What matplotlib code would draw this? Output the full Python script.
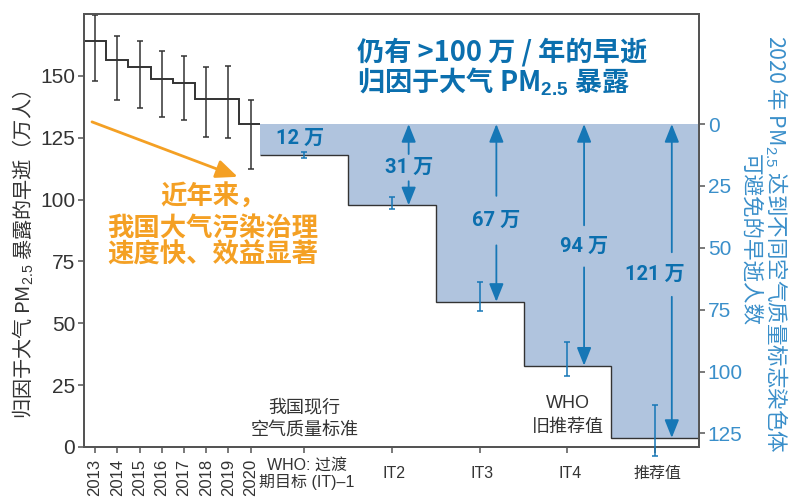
import matplotlib
matplotlib.use('Agg')
import matplotlib.pyplot as plt
import matplotlib.transforms as mtransforms
import numpy as np

plt.rcParams['font.family'] = ['Liberation Sans', 'Noto Sans CJK SC', 'DejaVu Sans']
plt.rcParams['mathtext.fontset'] = 'custom'
plt.rcParams['mathtext.rm'] = 'Liberation Sans'
plt.rcParams['mathtext.it'] = 'Liberation Sans:italic'
plt.rcParams['mathtext.bf'] = 'Liberation Sans:bold'

# ---- data ----
years = ['2013', '2014', '2015', '2016', '2017', '2018', '2019', '2020']
deaths = [164.0, 156.5, 153.4, 148.7, 147.0, 140.6, 140.6, 130.5]
deaths_low = [148.0, 140.3, 137.0, 133.3, 132.0, 125.2, 124.8, 112.3]
deaths_high = [174.7, 166.0, 163.9, 160.2, 158.1, 153.4, 154.0, 140.3]

standards = ['WHO: 过渡\n期目标 (IT)–1', 'IT2', 'IT3', 'IT4', '推荐值']
avoided = [12.4, 32.8, 71.8, 97.6, 126.8]
avoided_low = [11.2, 29.6, 64.0, 88.0, 113.6]
avoided_high = [13.5, 34.5, 75.5, 102.0, 134.0]
avoided_labels = ['12 万', '31 万', '67 万', '94 万', '121 万']

left_ticks = [0, 25, 50, 75, 100, 125, 150]
right_ticks = [0, 25, 50, 75, 100, 125]

# ---- style ----
DARK = '#333333'
SPINE = '#555555'
BLUE = '#0b6fae'
ARROW_BLUE = '#1677b6'
LIGHT_BLUE = '#3a8fca'
SHADE = '#b0c4de'
ORANGE = '#f4a024'
CJK = ['Noto Sans CJK SC', 'DejaVu Sans']

fig = plt.figure(figsize=(7.89, 4.97), dpi=100)
ax = fig.add_axes([84 / 789, 1 - 447 / 497, (699 - 84) / 789, (447 - 14) / 497])

year_pos = np.arange(len(years), dtype=float)
it_step = 3.95
it_pos = 9.42 + it_step * np.arange(len(standards))
it_edges = np.concatenate([it_pos - it_step / 2, [it_pos[-1] + it_step / 2]])
year_edges = np.concatenate([year_pos - 0.5, [it_edges[0]]])

top_val = deaths[-1]
ax.set_xlim(-0.5, it_edges[-1])
ax.set_ylim(0, 175)

# historical steps
ax.stairs(deaths, year_edges, baseline=None, color=DARK, lw=1.4, zorder=3)
d = np.array(deaths)
ax.errorbar(year_pos, d, yerr=[d - np.array(deaths_low), np.array(deaths_high) - d],
            fmt='none', ecolor=DARK, elinewidth=1.1, capsize=2.2, capthick=1.1, zorder=3)

# twin axis for avoided deaths
ax2 = ax.twinx()
ax2.set_ylim(top_val, top_val - 175)
a = np.array(avoided)
ax2.stairs(avoided, it_edges, baseline=0, fill=True, color=SHADE, lw=0, zorder=1)
ax2.stairs(avoided, it_edges, baseline=None, color=DARK, lw=1.0, zorder=2)
ax2.errorbar(it_pos, a, yerr=[a - np.array(avoided_low), np.array(avoided_high) - a],
             fmt='none', ecolor=ARROW_BLUE, elinewidth=1.1, capsize=2.2, capthick=1.1,
             zorder=4, clip_on=False)

# arrows and labels
arrow_x = it_pos + 0.75
label_y = [5.9, 17.6, 39.0, 49.4, 60.8]
gaps = [0, 5.5, 10.0, 8.5, 9.0]
for i, lab in enumerate(avoided_labels):
    if i == 0:
        ax2.text(it_pos[i] - 0.2, label_y[i], lab, ha='center', va='center', color=BLUE,
                 fontsize=14.5, fontweight='bold', family=['Roboto', 'Noto Sans CJK SC'], zorder=5)
        continue
    lx = arrow_x[i] if i < 4 else it_pos[i]
    ax2.text(lx, label_y[i], lab, ha='center', va='center', color=BLUE,
             fontsize=14.5, fontweight='bold', family=['Roboto', 'Noto Sans CJK SC'], zorder=5)
    ap = dict(arrowstyle='-|>,head_length=0.55,head_width=0.22', mutation_scale=20,
              color=ARROW_BLUE, lw=1.3, shrinkA=0, shrinkB=0)
    ax2.annotate('', xy=(arrow_x[i], 0), xytext=(arrow_x[i], label_y[i] - gaps[i]),
                 arrowprops=ap, zorder=5)
    ax2.annotate('', xy=(arrow_x[i], avoided[i]), xytext=(arrow_x[i], label_y[i] + gaps[i]),
                 arrowprops=ap, zorder=5)

# axes styling
ax.set_yticks(left_ticks)
ax.set_xticks(np.concatenate([year_pos, it_pos]))
ax.set_xticklabels(years + [''] * len(standards))
for lab in ax.get_xticklabels()[:len(years)]:
    lab.set_rotation(90)
ax.tick_params(axis='x', direction='out', length=4.3, width=1.1, color=SPINE,
               labelsize=12, labelcolor=DARK, pad=4)
ax.tick_params(axis='y', direction='out', length=4.3, width=1.1, color=SPINE,
               labelsize=15, labelcolor=DARK, pad=2)
ax2.set_yticks(right_ticks)
ax2.tick_params(axis='y', direction='out', length=4.3, width=1.1, color=SPINE,
                labelsize=15, labelcolor=LIGHT_BLUE, pad=2)
for a_ in (ax, ax2):
    for s in a_.spines.values():
        s.set_color(SPINE)
        s.set_linewidth(1.4)

# category labels below axis
trans = mtransforms.blended_transform_factory(ax.transData, ax.transAxes)
for p, s in zip(it_pos, standards):
    ax.text(p + 0.1, -0.062, s, transform=trans, ha='center', va='center', fontsize=11.5,
            color=DARK, linespacing=1.05, family=['Liberation Sans', 'Noto Sans CJK SC'])

# in-plot notes
ax.text(it_pos[0], 0.092, '我国现行', transform=trans, ha='center', va='center',
        fontsize=13, color=DARK, family=CJK)
ax.text(it_pos[0], 0.039, '空气质量标准', transform=trans, ha='center', va='center',
        fontsize=13, color=DARK, family=CJK)
ax.text(it_pos[3], 0.1016, 'WHO', transform=trans, ha='center', va='center',
        fontsize=13, color=DARK, family=['Liberation Sans', 'Noto Sans CJK SC'])
ax.text(it_pos[3], 0.046, '旧推荐值', transform=trans, ha='center', va='center',
        fontsize=13, color=DARK, family=CJK)

# title
tfam = ['Noto Sans CJK SC', 'DejaVu Sans']
ax.text(0.444, (447 - 51.7) / 433, '仍有 >100 万 / 年的早逝', transform=ax.transAxes,
        ha='left', va='center', fontsize=19.6, fontweight='bold', color=BLUE, family=tfam)
ax.text(0.444, (447 - 81.7) / 433, r'归因于大气 PM$_{\mathbf{2.5}}$ 暴露', transform=ax.transAxes,
        ha='left', va='center', fontsize=19.6, fontweight='bold', color=BLUE, family=tfam)

# orange note
ofs = [(197, '近年来，'), (228, '我国大气污染治理'), (255, '速度快、效益显著')]
for ypx, t in ofs:
    ax.text((213 - 84) / 615, (447 - ypx) / 433, t, transform=ax.transAxes, ha='center',
            va='center', fontsize=19, fontweight='bold', color=ORANGE, family=tfam)
ax.annotate('', xy=(6.42, 109.2), xytext=(-0.14, 131.4),
            arrowprops=dict(arrowstyle='-|>,head_length=0.65,head_width=0.28', mutation_scale=20,
                            color=ORANGE, lw=2.0, shrinkA=0, shrinkB=0))

# axis titles
fig.text(23 / 789, 1 - 255 / 497, '归因于大气 PM$_{2.5}$ 暴露的早逝（万人）', rotation=90,
         ha='center', va='center', fontsize=14.5, color=DARK, family=CJK)
fig.text(776 / 789, 1 - 244 / 497, '2020 年 PM$_{2.5}$ 达到不同空气质量标志染色体', rotation=270,
         ha='center', va='center', fontsize=15.5, color=LIGHT_BLUE, family=CJK)
fig.text(750 / 789, 1 - 240 / 497, '可避免的早逝人数', rotation=270,
         ha='center', va='center', fontsize=15.5, color=LIGHT_BLUE, family=CJK)

fig.savefig('out.png', dpi=100)
